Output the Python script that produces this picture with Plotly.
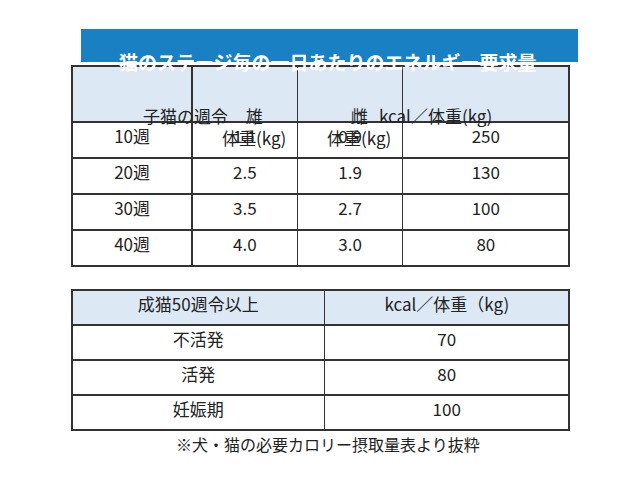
import plotly.graph_objects as go

# 子猫の表
kitten_age = ["10週", "20週", "30週", "40週"]
male_kg = ["1.1", "2.5", "3.5", "4.0"]
female_kg = ["0.9", "1.9", "2.7", "3.0"]
kitten_kcal = ["250", "130", "100", "80"]
kitten_header = ["子猫の週令", "雄<br>体重(kg)", "雌<br>体重(kg)", "kcal／体重(kg)"]

# 成猫の表
adult_state = ["不活発", "活発", "妊娠期"]
adult_kcal = ["70", "80", "100"]
adult_header = ["成猫50週令以上", "kcal／体重（kg)"]

FONT = "Noto Sans CJK JP"
LINE = "#333333"
HEAD_BG = "#dde8f5"

fig = go.Figure()

fig.add_trace(go.Table(
    domain=dict(x=[64/640, 561/640], y=[0, 1 - 58/480]),
    columnwidth=[120, 105, 105, 166],
    header=dict(values=["", "", "", ""], fill_color=HEAD_BG, height=56,
                line=dict(color=LINE, width=1.5)),
    cells=dict(values=[kitten_age, male_kg, female_kg, kitten_kcal],
               fill_color="white", height=36, align="center",
               line=dict(color=LINE, width=1.5),
               font=dict(family=FONT, size=17, color="#222")),
))

# 2行の見出しは注釈で中央に置く
head_x = [133, 245.5, 350.5, 486]
for hx, txt in zip(head_x, kitten_header):
    fig.add_annotation(x=hx/640, y=1 - 93/480, xref="paper", yref="paper",
                       text=txt, showarrow=False, align="center",
                       font=dict(family=FONT, size=17, color="#222"))

fig.add_trace(go.Table(
    domain=dict(x=[64/640, 561/640], y=[0, 1 - 282/480]),
    columnwidth=[252, 244],
    header=dict(values=adult_header, fill_color=HEAD_BG, height=35,
                line=dict(color=LINE, width=1.5), align="center",
                font=dict(family=FONT, size=17, color="#222")),
    cells=dict(values=[adult_state, adult_kcal], fill_color="white",
               height=35, align="center", line=dict(color=LINE, width=1.5),
               font=dict(family=FONT, size=17, color="#222")),
))

# タイトル帯
fig.add_shape(type="rect", xref="paper", yref="paper", layer="above",
              x0=73/640, x1=570/640, y0=1 - 54/480, y1=1 - 21/480,
              fillcolor="#1a80c4", line=dict(width=0))
fig.add_annotation(x=0.5, y=1 - 37.5/480, xref="paper", yref="paper",
                   text="<b>猫のステージ毎の一日あたりのエネルギー要求量</b>",
                   showarrow=False, font=dict(family=FONT, size=19, color="white"))
fig.add_annotation(x=0.5, y=1 - 450/480, xref="paper", yref="paper",
                   text="※犬・猫の必要カロリー摂取量表より抜粋",
                   showarrow=False, font=dict(family=FONT, size=16, color="#222"))

fig.update_layout(width=640, height=480, margin=dict(l=0, r=0, t=0, b=0),
                  paper_bgcolor="white")
fig.write_html("out.html")
